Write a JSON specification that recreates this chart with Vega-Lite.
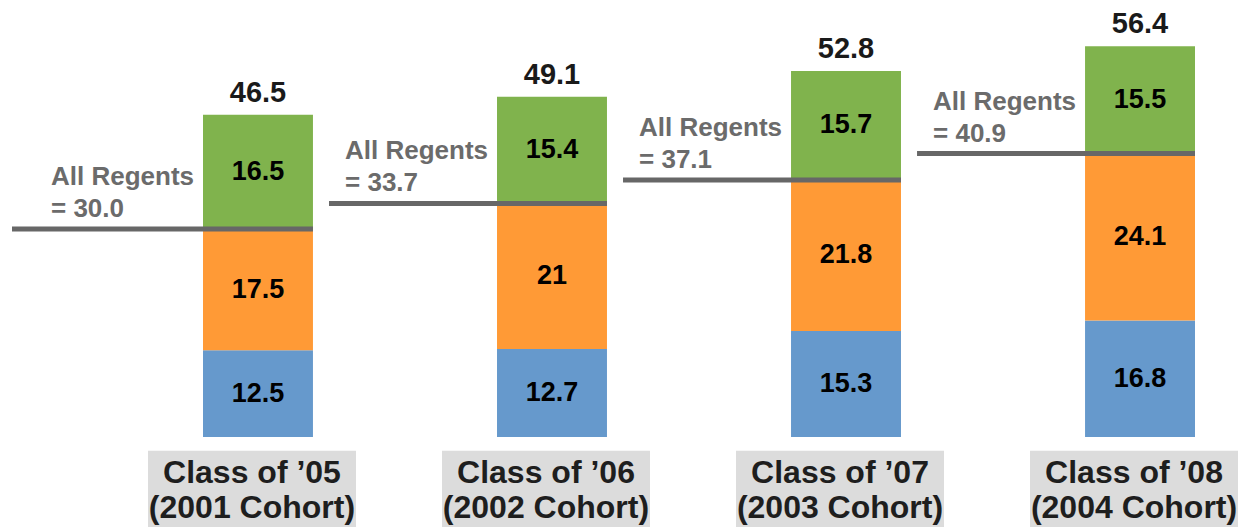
{
  "$schema": "https://vega.github.io/schema/vega-lite/v6.json",
  "width": 1249,
  "height": 527,
  "autosize": {"type": "none"},
  "padding": 0,
  "background": "white",
  "config": {"view": {"stroke": null}, "font": "Liberation Sans"},
  "datasets": {
    "classes": [
      {"cls": "Class of ’05", "cohort": "(2001 Cohort)", "total": 46.5, "regents": 30.0},
      {"cls": "Class of ’06", "cohort": "(2002 Cohort)", "total": 49.1, "regents": 33.7},
      {"cls": "Class of ’07", "cohort": "(2003 Cohort)", "total": 52.8, "regents": 37.1},
      {"cls": "Class of ’08", "cohort": "(2004 Cohort)", "total": 56.4, "regents": 40.9}
    ],
    "segments": [
      {"cls": "Class of ’05", "part": "A", "rank": 1, "value": 12.5},
      {"cls": "Class of ’05", "part": "B", "rank": 2, "value": 17.5},
      {"cls": "Class of ’05", "part": "C", "rank": 3, "value": 16.5},
      {"cls": "Class of ’06", "part": "A", "rank": 1, "value": 12.7},
      {"cls": "Class of ’06", "part": "B", "rank": 2, "value": 21},
      {"cls": "Class of ’06", "part": "C", "rank": 3, "value": 15.4},
      {"cls": "Class of ’07", "part": "A", "rank": 1, "value": 15.3},
      {"cls": "Class of ’07", "part": "B", "rank": 2, "value": 21.8},
      {"cls": "Class of ’07", "part": "C", "rank": 3, "value": 15.7},
      {"cls": "Class of ’08", "part": "A", "rank": 1, "value": 16.8},
      {"cls": "Class of ’08", "part": "B", "rank": 2, "value": 24.1},
      {"cls": "Class of ’08", "part": "C", "rank": 3, "value": 15.5}
    ]
  },
  "resolve": {"scale": {"x": "shared", "y": "shared"}},
  "encoding": {
    "x": {
      "field": "cls",
      "type": "nominal",
      "axis": null,
      "sort": null,
      "scale": {"range": [203, 1195], "paddingInner": 0.626, "paddingOuter": 0}
    }
  },
  "layer": [
    {
      "data": {"name": "classes"},
      "mark": {"type": "bar", "width": 208, "color": "#dcdcdc", "xOffset": -6},
      "encoding": {
        "y": {"datum": -2, "type": "quantitative", "scale": {"domain": [-12.99, 63.06], "nice": false, "zero": false}, "axis": null},
        "y2": {"datum": -14}
      }
    },
    {
      "data": {"name": "segments"},
      "mark": {"type": "bar"},
      "encoding": {
        "y": {"field": "value", "type": "quantitative", "stack": "zero", "axis": null},
        "color": {"field": "part", "type": "nominal", "legend": null, "scale": {"domain": ["A", "B", "C"], "range": ["#6699cc", "#ff9a36", "#80b34d"]}},
        "order": {"field": "rank", "type": "quantitative"}
      }
    },
    {
      "data": {"name": "segments"},
      "mark": {"type": "text", "fontSize": 27, "fontWeight": "bold", "color": "#000000", "baseline": "middle"},
      "encoding": {
        "y": {"field": "value", "type": "quantitative", "stack": "zero", "bandPosition": 0.5},
        "order": {"field": "rank", "type": "quantitative"},
        "detail": {"field": "part"},
        "text": {"field": "value", "type": "quantitative"}
      }
    },
    {
      "data": {"name": "classes"},
      "mark": {"type": "text", "fontSize": 29, "fontWeight": "bold", "color": "#1a1a1a", "baseline": "alphabetic", "dy": -13},
      "encoding": {
        "y": {"field": "total", "type": "quantitative"},
        "text": {"field": "total", "type": "quantitative", "format": ".1f"}
      }
    },
    {
      "data": {"name": "classes"},
      "mark": {"type": "rule", "color": "#676767", "strokeWidth": 5, "xOffset": {"expr": "datum.cls === 'Class of ’05' ? -191 : -168"}},
      "encoding": {
        "x": {"field": "cls", "type": "nominal", "bandPosition": 0, "sort": null},
        "x2": {"field": "cls", "bandPosition": 1},
        "y": {"field": "regents", "type": "quantitative"}
      }
    },
    {
      "data": {"name": "classes"},
      "transform": [{"calculate": "['All Regents', '= ' + format(datum.regents, '.1f')]", "as": "rlabel"}],
      "mark": {"type": "text", "fontSize": 26, "fontWeight": "bold", "color": "#6b6b6b", "align": "left", "baseline": "alphabetic", "dy": -44, "xOffset": -152, "lineHeight": 32},
      "encoding": {
        "x": {"field": "cls", "type": "nominal", "bandPosition": 0, "sort": null},
        "y": {"field": "regents", "type": "quantitative"},
        "text": {"field": "rlabel"}
      }
    },
    {
      "data": {"name": "classes"},
      "transform": [{"calculate": "[datum.cls, datum.cohort]", "as": "clabel"}],
      "mark": {"type": "text", "fontSize": 32, "fontWeight": "bold", "color": "#1e1e1e", "baseline": "alphabetic", "lineHeight": 35, "xOffset": -6},
      "encoding": {
        "y": {"datum": -6.64, "type": "quantitative"},
        "text": {"field": "clabel"}
      }
    }
  ]
}
